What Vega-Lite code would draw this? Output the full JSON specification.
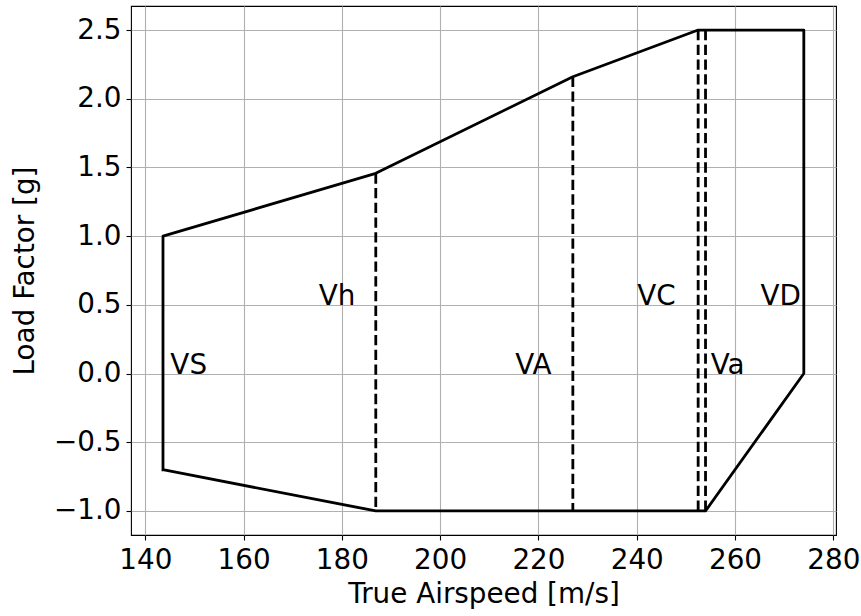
{
  "$schema": "https://vega.github.io/schema/vega-lite/v6.json",
  "width": 705,
  "height": 529,
  "autosize": {"type": "none"},
  "padding": {"left": 131, "top": 6, "right": 25, "bottom": 81},
  "background": "white",
  "config": {
    "font": "DejaVu Sans",
    "view": {"stroke": "black", "strokeWidth": 1.1},
    "axis": {
      "labelFont": "DejaVu Sans",
      "titleFont": "DejaVu Sans",
      "labelFontSize": 27.8,
      "titleFontSize": 27.8,
      "titleFontWeight": "normal",
      "labelColor": "black",
      "titleColor": "black",
      "tickColor": "black",
      "tickSize": 5,
      "tickWidth": 1.1,
      "domain": false,
      "gridColor": "#b0b0b0",
      "gridWidth": 1.1,
      "gridOpacity": 1
    }
  },
  "datasets": {
    "envelope": [
      {"ord": 1, "v": 143.6, "n": -0.7},
      {"ord": 2, "v": 143.6, "n": 1.0},
      {"ord": 3, "v": 186.9, "n": 1.457},
      {"ord": 4, "v": 227.0, "n": 2.16},
      {"ord": 5, "v": 252.5, "n": 2.5},
      {"ord": 6, "v": 274.0, "n": 2.5},
      {"ord": 7, "v": 274.0, "n": 0.0},
      {"ord": 8, "v": 254.0, "n": -1.0},
      {"ord": 9, "v": 186.9, "n": -1.0},
      {"ord": 10, "v": 143.6, "n": -0.7}
    ],
    "dashed": [
      {"v": 186.9, "top": 1.457, "bottom": -1.0},
      {"v": 227.0, "top": 2.16, "bottom": -1.0},
      {"v": 252.5, "top": 2.5, "bottom": -1.0},
      {"v": 254.0, "top": 2.5, "bottom": -1.0}
    ],
    "labels": [
      {"v": 145.1, "n": 0.0, "label": "VS"},
      {"v": 175.3, "n": 0.5, "label": "Vh"},
      {"v": 215.3, "n": 0.0, "label": "VA"},
      {"v": 240.1, "n": 0.5, "label": "VC"},
      {"v": 255.05, "n": 0.0, "label": "Va"},
      {"v": 265.2, "n": 0.5, "label": "VD"}
    ]
  },
  "layer": [
    {
      "data": {"name": "envelope"},
      "mark": {"type": "line", "color": "black", "strokeWidth": 2.8, "strokeJoin": "round", "strokeCap": "square", "clip": true},
      "encoding": {
        "x": {
          "field": "v", "type": "quantitative",
          "scale": {"domain": [137.09, 280.55], "nice": false, "zero": false},
          "axis": {"values": [140, 160, 180, 200, 220, 240, 260, 280], "format": "d", "title": "True Airspeed [m/s]", "labelPadding": 6, "titlePadding": 7}
        },
        "y": {
          "field": "n", "type": "quantitative",
          "scale": {"domain": [-1.175, 2.675], "nice": false, "zero": false},
          "axis": {"values": [-1.0, -0.5, 0.0, 0.5, 1.0, 1.5, 2.0, 2.5], "format": ".1f", "title": "Load Factor [g]", "labelPadding": 5, "titlePadding": 14}
        },
        "order": {"field": "ord", "type": "quantitative"}
      }
    },
    {
      "data": {"name": "dashed"},
      "mark": {"type": "rule", "color": "black", "strokeWidth": 2.8, "strokeDash": [10.3, 4.4], "strokeCap": "butt"},
      "encoding": {
        "x": {"field": "v", "type": "quantitative"},
        "y": {"field": "top", "type": "quantitative"},
        "y2": {"field": "bottom"}
      }
    },
    {
      "data": {"name": "labels"},
      "mark": {"type": "text", "align": "left", "baseline": "alphabetic", "fontSize": 27.8, "font": "DejaVu Sans", "color": "black"},
      "encoding": {
        "x": {"field": "v", "type": "quantitative"},
        "y": {"field": "n", "type": "quantitative"},
        "text": {"field": "label"}
      }
    }
  ]
}
